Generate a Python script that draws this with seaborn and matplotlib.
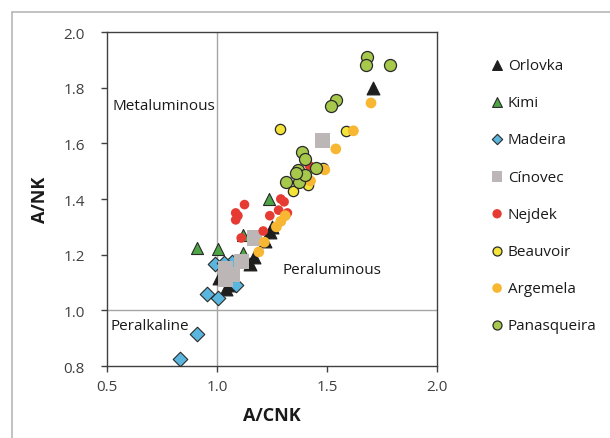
import matplotlib
matplotlib.use("Agg")
import matplotlib.pyplot as plt
from matplotlib.lines import Line2D
import seaborn as sns
import pandas as pd

# ---- data ----
orlovka_x = [1.71, 1.25, 1.24, 1.22, 1.17, 1.15, 1.04, 1.01, 1.06]
orlovka_y = [1.80, 1.30, 1.28, 1.25, 1.19, 1.165, 1.075, 1.115, 1.09]
kimi_x = [0.91, 1.005, 1.12, 1.12, 1.235]
kimi_y = [1.225, 1.22, 1.27, 1.205, 1.40]
madeira_x = [0.83, 0.91, 0.955, 1.005, 0.99, 1.07, 1.085, 1.03]
madeira_y = [0.825, 0.915, 1.06, 1.045, 1.165, 1.175, 1.09, 1.17]
cinovec_x = [1.48, 1.17, 1.11, 1.04, 1.04, 1.07]
cinovec_y = [1.61, 1.26, 1.175, 1.15, 1.11, 1.13]
nejdek_x = [1.125, 1.085, 1.095, 1.085, 1.11, 1.21, 1.24, 1.29, 1.305, 1.28, 1.32, 1.42]
nejdek_y = [1.38, 1.35, 1.34, 1.325, 1.26, 1.285, 1.34, 1.40, 1.39, 1.36, 1.35, 1.52]
beauvoir_x = [1.285, 1.585, 1.345, 1.415, 1.48]
beauvoir_y = [1.65, 1.645, 1.43, 1.45, 1.51]
argemela_x = [1.70, 1.62, 1.54, 1.49, 1.425, 1.31, 1.29, 1.215, 1.19, 1.27]
argemela_y = [1.745, 1.645, 1.58, 1.505, 1.465, 1.34, 1.32, 1.245, 1.21, 1.30]
panas_x = [1.68, 1.675, 1.785, 1.54, 1.52, 1.385, 1.40, 1.37, 1.45, 1.315, 1.375, 1.40, 1.36]
panas_y = [1.91, 1.88, 1.88, 1.755, 1.735, 1.57, 1.545, 1.505, 1.51, 1.46, 1.46, 1.485, 1.495]

groups = ["Orlovka", "Kimi", "Madeira", "Cínovec", "Nejdek", "Beauvoir", "Argemela", "Panasqueira"]
xs = [orlovka_x, kimi_x, madeira_x, cinovec_x, nejdek_x, beauvoir_x, argemela_x, panas_x]
ys = [orlovka_y, kimi_y, madeira_y, cinovec_y, nejdek_y, beauvoir_y, argemela_y, panas_y]

x_ticks = [0.5, 1.0, 1.5, 2.0]
y_ticks = [0.8, 1.0, 1.2, 1.4, 1.6, 1.8, 2.0]

style = {
    "Orlovka":     dict(marker="^", color="#1e1e1e", ec="#1e1e1e", s=85, lw=0.8, ls=50),
    "Kimi":        dict(marker="^", color="#4ea546", ec="#2a2a2a", s=75, lw=0.8, ls=50),
    "Madeira":     dict(marker="D", color="#5bb6df", ec="#2a2a2a", s=55, lw=0.8, ls=28),
    "Cínovec":     dict(marker="s", color="#bdb6b6", ec="none", s=120, lw=0, ls=55),
    "Nejdek":      dict(marker="o", color="#e53b32", ec="none", s=48, lw=0, ls=45),
    "Beauvoir":    dict(marker="o", color="#f4e43a", ec="#2a2a2a", s=55, lw=0.9, ls=42),
    "Argemela":    dict(marker="o", color="#f8b732", ec="none", s=60, lw=0, ls=48),
    "Panasqueira": dict(marker="o", color="#a6c94b", ec="#2a2a2a", s=75, lw=0.9, ls=42),
}

rows = []
for g, xv, yv in zip(groups, xs, ys):
    for a, b in zip(xv, yv):
        rows.append({"group": g, "A/CNK": a, "A/NK": b})
df = pd.DataFrame(rows)

sns.set_theme(style="white")
plt.rcParams["font.family"] = ["Open Sans", "DejaVu Sans"]

fig = plt.figure(figsize=(6.10, 4.39), dpi=100)
ax = fig.add_axes([0.1754, 0.1640, 0.5410, 0.7608])

ax.axvline(1.0, color="#a6a6a6", lw=1.0, zorder=1)
ax.axhline(1.0, color="#a6a6a6", lw=1.0, zorder=1)

for g in groups:
    st = style[g]
    sns.scatterplot(data=df[df["group"] == g], x="A/CNK", y="A/NK", ax=ax,
                    marker=st["marker"], color=st["color"], edgecolor=st["ec"],
                    s=st["s"], linewidth=st["lw"], label=g, zorder=3)

ax.set_xlim(0.5, 2.0)
ax.set_ylim(0.8, 2.0)
ax.set_xticks(x_ticks)
ax.set_yticks(y_ticks)
ax.set_xticklabels([f"{v:.1f}" for v in x_ticks], fontsize=11, color="#404040")
ax.set_yticklabels([f"{v:.1f}" for v in y_ticks], fontsize=11, color="#404040")
ax.tick_params(direction="out", length=4, width=1, color="#404040", left=True, bottom=True)
ax.tick_params(axis="x", pad=5)
ax.tick_params(axis="y", pad=12)
for sp in ax.spines.values():
    sp.set_color("#404040")
    sp.set_linewidth(1.0)
ax.set_xlabel("A/CNK", fontsize=13, fontweight="bold", color="#1a1a1a")
ax.set_ylabel("A/NK", fontsize=13, fontweight="bold", color="#1a1a1a")
ax.xaxis.label.set_va("center")
ax.yaxis.label.set_va("center")
ax.xaxis.set_label_coords(0.5, -0.146)
ax.yaxis.set_label_coords(-0.203, 0.5)

ax.text(0.527, 1.735, "Metaluminous", fontsize=11, color="#1a1a1a", va="center", ha="left")
ax.text(1.30, 1.147, "Peraluminous", fontsize=11, color="#1a1a1a", va="center", ha="left")
ax.text(0.518, 0.946, "Peralkaline", fontsize=11, color="#1a1a1a", va="center", ha="left")

handles, labels = ax.get_legend_handles_labels()
leg = ax.legend(handles, labels, loc="upper left", bbox_to_anchor=(1.145, 0.94),
                frameon=False, fontsize=11, labelspacing=1.45, handletextpad=0.3,
                handlelength=0.8, borderaxespad=0, borderpad=0.4)
for t in leg.get_texts():
    t.set_color("#1a1a1a")
for h, g in zip(leg.legend_handles, labels):
    h.set_sizes([style[g]["ls"]])

fig.add_artist(Line2D([12.5 / 610, 12.5 / 610], [0.0, 1 - 13 / 439], transform=fig.transFigure,
                      color="#b8b8b8", lw=1.2))
fig.add_artist(Line2D([12.5 / 610, 1.0], [1 - 13 / 439, 1 - 13 / 439], transform=fig.transFigure,
                      color="#b8b8b8", lw=1.2))

fig.savefig("out.png", dpi=100, facecolor="white")
